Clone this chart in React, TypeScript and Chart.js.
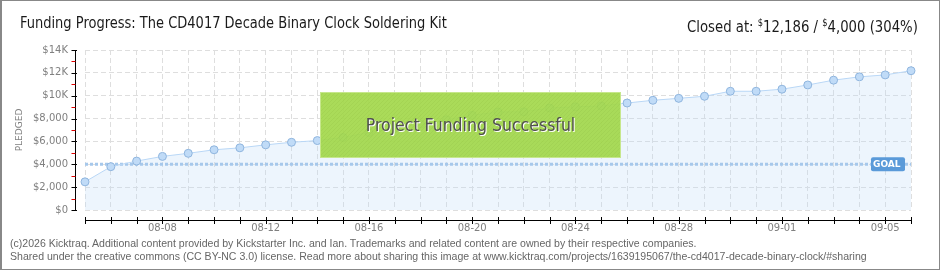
import React, { useEffect, useRef } from 'react';
import { Chart, registerables } from 'chart.js';

Chart.register(...registerables);

// ---- data ----
const dates = [
  '08-05', '08-06', '08-07', '08-08', '08-09', '08-10', '08-11', '08-12', '08-13', '08-14',
  '08-15', '08-16', '08-17', '08-18', '08-19', '08-20', '08-21', '08-22', '08-23', '08-24',
  '08-25', '08-26', '08-27', '08-28', '08-29', '08-30', '08-31', '09-01', '09-02', '09-03',
  '09-04', '09-05', '09-06',
];
const pledged = [
  2465, 3790, 4280, 4690, 4960, 5270, 5440, 5700, 5925, 6075,
  6340, 6780, 7150, 7520, 7900, 8280, 8570, 8590, 8920, 9030,
  9100, 9360, 9600, 9770, 9950, 10390, 10390, 10570, 10940, 11360,
  11650, 11820, 12186,
];
const goal = 4000;
const yMax = 14000;
const yStep = 2000;
const labelEvery = 4;
const labelStart = 3;

const titleText = 'Funding Progress: The CD4017 Decade Binary Clock Soldering Kit';
const closedAmount = '12,186';
const goalAmount = '4,000';
const percentText = '(304%)';
const bannerText = 'Project Funding Successful';
const footer1 = '(c)2026 Kicktraq. Additional content provided by Kickstarter Inc. and Ian. Trademarks and related content are owned by their respective companies.';
const footer2 = 'Shared under the creative commons (CC BY-NC 3.0) license. Read more about sharing this image at www.kicktraq.com/projects/1639195067/the-cd4017-decade-binary-clock/#sharing';

const NARROW = '"Liberation Sans Narrow", "DejaVu Sans Condensed", "Roboto", sans-serif';
const TICKFONT = '"DejaVu Sans", sans-serif';

function fmtY(v: number): string {
  if (v >= 10000) return '$' + v / 1000 + 'K';
  return '$' + v.toLocaleString('en-US');
}

const decor = {
  id: 'decor',
  afterDraw(chart: any) {
    const { ctx, chartArea: ca, scales } = chart;
    const x = scales.x;
    const y = scales.y;
    ctx.save();
    ctx.lineWidth = 1;

    // y axis line and ticks
    const ax = ca.left - 9.5;
    ctx.strokeStyle = '#000';
    ctx.beginPath();
    ctx.moveTo(ax, ca.top);
    ctx.lineTo(ax, ca.bottom + 1);
    ctx.stroke();
    for (let v = 0; v <= yMax; v += yStep / 2) {
      const py = Math.round(y.getPixelForValue(v)) + 0.5;
      const major = v % yStep === 0;
      ctx.strokeStyle = major ? '#000' : '#e00000';
      ctx.beginPath();
      ctx.moveTo(ax - 4, py);
      ctx.lineTo(major ? ax + 1.5 : ax, py);
      ctx.stroke();
    }

    // x axis line and ticks
    const ay = ca.bottom + 10.5;
    ctx.strokeStyle = '#000';
    ctx.beginPath();
    ctx.moveTo(ca.left, ay);
    ctx.lineTo(ca.right + 1, ay);
    ctx.stroke();
    dates.forEach((_, i) => {
      const px = Math.round(x.getPixelForValue(i)) + 0.5;
      ctx.beginPath();
      ctx.moveTo(px, ay - 3.5);
      ctx.lineTo(px, ay + 3.5);
      ctx.stroke();
    });

    // GOAL label
    const gy = y.getPixelForValue(goal);
    const gx1 = ca.right - 40;
    const gw = 34;
    const gh = 14;
    ctx.fillStyle = '#5a9ad9';
    ctx.beginPath();
    (ctx as any).roundRect(gx1, gy - gh / 2, gw, gh, 2);
    ctx.fill();
    ctx.fillStyle = '#fff';
    ctx.font = 'bold 9px "DejaVu Sans", sans-serif';
    ctx.textBaseline = 'middle';
    ctx.textAlign = 'left';
    ctx.fillText('GOAL', gx1 + 2, gy + 0.5);

    // success banner
    const bx = ca.left + 235;
    const by = ca.top + 42;
    const bw = 301;
    const bh = 66;
    ctx.globalAlpha = 0.93;
    ctx.fillStyle = '#a4d84c';
    ctx.fillRect(bx, by, bw, bh);
    ctx.globalAlpha = 1;
    ctx.save();
    ctx.beginPath();
    ctx.rect(bx, by, bw, bh);
    ctx.clip();
    ctx.strokeStyle = 'rgba(60,110,0,0.06)';
    for (let k = -bh; k < bw; k += 4) {
      ctx.beginPath();
      ctx.moveTo(bx + k, by + bh);
      ctx.lineTo(bx + k + bh, by);
      ctx.stroke();
    }
    ctx.restore();
    ctx.strokeStyle = '#c6e78c';
    ctx.strokeRect(bx + 0.5, by + 0.5, bw - 1, bh - 1);
    ctx.font = '17.5px ' + NARROW;
    ctx.textAlign = 'center';
    ctx.textBaseline = 'middle';
    const cx = bx + bw / 2;
    const cy = by + bh / 2 + 1;
    ctx.fillStyle = '#ffffff';
    ctx.fillText(bannerText, cx + 1, cy + 1);
    ctx.fillStyle = '#505050';
    ctx.fillText(bannerText, cx, cy);

    ctx.restore();
  },
};

export default function App() {
  const ref = useRef<HTMLCanvasElement | null>(null);

  useEffect(() => {
    if (!ref.current) return;
    const chart = new Chart(ref.current, {
      type: 'line',
      data: {
        labels: dates,
        datasets: [
          {
            label: 'Pledged',
            data: pledged,
            borderColor: '#b9d7f6',
            borderWidth: 1,
            backgroundColor: 'rgba(190,218,247,0.28)',
            fill: 'origin',
            pointRadius: 4,
            pointBorderWidth: 1,
            pointBackgroundColor: '#c0dbf7',
            pointBorderColor: '#8fb5de',
            tension: 0,
          },
          {
            label: 'Goal',
            data: dates.map(() => goal),
            borderColor: '#a6c8eb',
            borderWidth: 3,
            borderDash: [3, 2],
            pointRadius: 0,
            fill: false,
          },
        ],
      },
      options: {
        animation: false,
        responsive: false,
        devicePixelRatio: 1,
        layout: { padding: { top: 50, right: 29, bottom: 0, left: 0 } },
        plugins: {
          legend: { display: false },
          tooltip: { enabled: false },
          filler: { drawTime: 'beforeDatasetsDraw' },
        },
        scales: {
          x: {
            type: 'category',
            offset: false,
            grid: { color: '#dedede', drawTicks: false, lineWidth: 1 },
            border: { display: false, dash: [5, 3] },
            ticks: {
              autoSkip: false,
              maxRotation: 0,
              minRotation: 0,
              padding: 12,
              color: '#808080',
              font: { family: TICKFONT, size: 10 },
              callback: (_v: any, i: number) =>
                i >= labelStart && (i - labelStart) % labelEvery === 0 ? dates[i] : '',
            },
            afterFit: (s: any) => {
              s.height = 60;
            },
          },
          y: {
            min: 0,
            max: yMax,
            grid: { color: '#dedede', drawTicks: false, lineWidth: 1 },
            border: { display: false, dash: [5, 3] },
            ticks: {
              stepSize: yStep,
              padding: 17,
              color: '#808080',
              font: { family: TICKFONT, size: 10 },
              callback: (v: any) => fmtY(Number(v)),
            },
            title: {
              display: true,
              text: 'PLEDGED',
              color: '#808080',
              font: { family: TICKFONT, size: 9 },
              padding: { top: 14.6, bottom: 0 },
            },
            afterFit: (s: any) => {
              s.width = 85;
            },
          },
        },
      },
      plugins: [decor],
    } as any);
    return () => chart.destroy();
  }, []);

  return (
    <div
      style={{
        position: 'absolute',
        left: 0,
        top: 0,
        width: 940,
        height: 270,
        background: '#fff',
        overflow: 'hidden',
      }}
    >
      <canvas ref={ref} width={940} height={270} style={{ position: 'absolute', left: 0, top: 0, width: 940, height: 270 }} />
      <div
        style={{
          position: 'absolute',
          left: 20,
          top: 13,
          fontFamily: NARROW,
          fontSize: 16,
          color: '#1a1a1a',
          whiteSpace: 'nowrap',
          lineHeight: '20px',
          transform: 'scaleX(0.905)',
          transformOrigin: 'left center',
        }}
      >
        {titleText}
      </div>
      <div
        style={{
          position: 'absolute',
          right: 22,
          top: 12.5,
          fontFamily: NARROW,
          fontSize: 16,
          color: '#1a1a1a',
          whiteSpace: 'nowrap',
          lineHeight: '20px',
          transform: 'scaleX(0.92)',
          transformOrigin: 'right center',
        }}
      >
        Closed at:{' '}
        <sup style={{ fontSize: 10, verticalAlign: 6 }}>$</sup>
        {closedAmount} /{' '}
        <sup style={{ fontSize: 10, verticalAlign: 6 }}>$</sup>
        {goalAmount} {percentText}
      </div>
      <div
        style={{
          position: 'absolute',
          left: 10,
          top: 237,
          fontFamily: '"Liberation Sans", "DejaVu Sans", sans-serif',
          fontSize: 10.55,
          color: '#666',
          whiteSpace: 'nowrap',
          lineHeight: '13px',
        }}
      >
        <div>{footer1}</div>
        <div>{footer2}</div>
      </div>
      <div
        style={{
          position: 'absolute',
          left: 0,
          top: 0,
          width: 940,
          height: 270,
          boxSizing: 'border-box',
          border: '1px solid #888',
          borderLeftWidth: 2,
          pointerEvents: 'none',
        }}
      />
    </div>
  );
}
